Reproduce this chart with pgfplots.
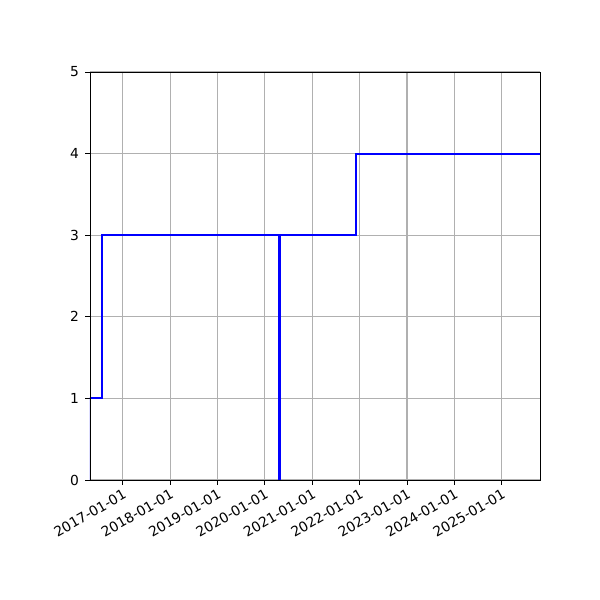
\documentclass[border=0pt]{standalone}
\usepackage{pgfplots}
\pgfplotsset{compat=1.18}
\usepackage{fontspec}
\setmainfont{DejaVu Sans}
\begin{document}
\begin{tikzpicture}
\path[use as bounding box] (0,0) rectangle (6in,6in);
\begin{axis}[
  at={(0.9in,1.2in)}, anchor=south west,
  scale only axis, width=4.5in, height=4.08in,
  xmin=-252, xmax=3216, ymin=0, ymax=5,
  xtick={0,365,730,1095,1461,1826,2191,2556,2922},
  xticklabels={2017-01-01,2018-01-01,2019-01-01,2020-01-01,2021-01-01,2022-01-01,2023-01-01,2024-01-01,2025-01-01},
  ytick={0,1,2,3,4,5},
  x tick label style={rotate=30, anchor=north east, font=\fontsize{10}{12}\selectfont, inner sep=1pt},
  y tick label style={font=\fontsize{10}{12}\selectfont},
  /pgf/number format/assume math mode=true,
  tick align=outside, major tick length=3.5pt,
  xtick pos=bottom, ytick pos=left,
  tick style={black, line width=0.7pt},
  axis line style={line width=0.7pt},
  grid=major, major grid style={color=black!31, line width=0.8pt},
  xticklabel shift=1pt, yticklabel shift=1pt,
]
\addplot[blue, line width=1.5pt, line join=miter] coordinates {
  (-252,0) (-252,1) (-159,1) (-159,3) (1205,3) (1205,0) (1205,3) (1796,3) (1796,4) (3216,4)
};
\addplot[blue, line width=2.2pt] coordinates {(1205,0) (1205,3)};
\draw[black, line width=0.7pt] (rel axis cs:0,0) -- (rel axis cs:0,1);
\end{axis}
\end{tikzpicture}
\end{document}
